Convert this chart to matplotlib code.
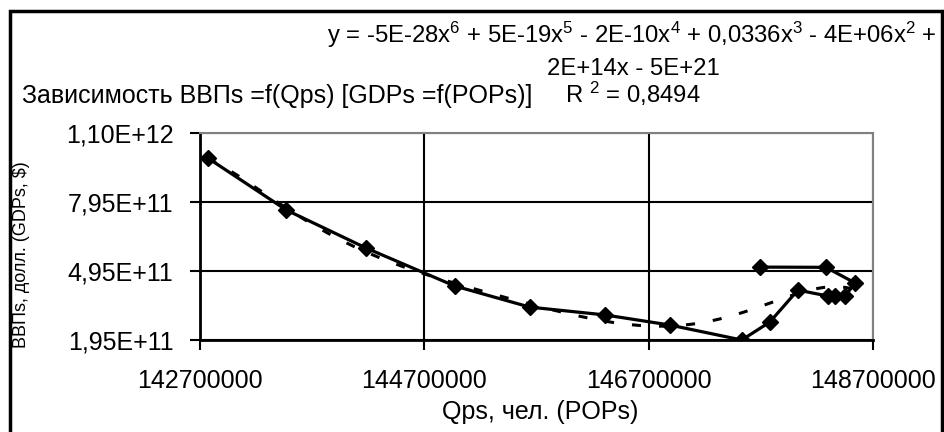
import numpy as np
import matplotlib
matplotlib.use("Agg")
from matplotlib import pyplot as plt
from matplotlib.patches import Rectangle

plt.rcParams['font.family'] = ['Liberation Sans', 'DejaVu Sans']
plt.rcParams['mathtext.fontset'] = 'custom'
plt.rcParams['mathtext.rm'] = 'Liberation Sans'
plt.rcParams['mathtext.it'] = 'Liberation Sans'
plt.rcParams['lines.scale_dashes'] = False

# population (people) and GDP ($), in the order the line runs
pops = [147.69e6, 148.28e6, 148.54e6, 148.45e6, 148.36e6, 148.30e6, 148.03e6, 147.78e6,
        147.53e6, 146.89e6, 146.31e6, 145.64e6, 144.97e6, 144.18e6, 143.47e6, 142.77e6]
gdps = [5.12e11, 5.11e11, 4.43e11, 3.86e11, 3.86e11, 3.86e11, 4.12e11, 2.73e11,
        1.95e11, 2.60e11, 3.04e11, 3.38e11, 4.30e11, 5.95e11, 7.60e11, 9.86e11]

xticks = [142700000, 144700000, 146700000, 148700000]
yticks = [1.95e11, 4.95e11, 7.95e11, 1.095e12]
ytick_labels = ["1,95E+11", "4,95E+11", "7,95E+11", "1,10E+12"]

title = "Зависимость ВВПs =f(Qps) [GDPs =f(POPs)]"
eq1 = r"y = -5E-28x$^{6}$ + 5E-19x$^{5}$ - 2E-10x$^{4}$ + 0,0336x$^{3}$ - 4E+06x$^{2}$ +"
eq2 = "2E+14x - 5E+21"
r2 = r"R $^{2}$ = 0,8494"

W, H = 944, 432
fig = plt.figure(figsize=(W / 100, H / 100), dpi=100)
ax = fig.add_axes([200 / W, 1 - 340 / H, 673 / W, 207 / H])

x = np.array(pops)
y = np.array(gdps)

# 6th order polynomial trend, as in the original
trend = np.polynomial.Polynomial.fit(x, y, 6)
xs = np.linspace(x.min(), x.max(), 300)
ax.plot(xs, trend(xs), color='black', lw=2.2, dashes=(6.5, 13), zorder=3)

ax.plot(x, y, color='black', lw=2.3, marker='D', markersize=8.5, zorder=4)

ax.set_xlim(142700000, 148700000)
ax.set_ylim(1.95e11, 1.095e12)
ax.set_xticks(xticks)
ax.set_xticklabels([str(t) for t in xticks])
ax.set_yticks(yticks)
ax.set_yticklabels(ytick_labels)
ax.tick_params(axis='both', direction='out', length=7, width=1.5,
               labelsize=18, colors='black')
ax.tick_params(axis='x', pad=14)
ax.tick_params(axis='y', pad=12)

ax.set_axisbelow(True)
ax.grid(True, color='black', lw=1.5)
for s in ['top', 'right']:
    ax.spines[s].set_color('#808080')
    ax.spines[s].set_linewidth(1.5)
for s in ['left', 'bottom']:
    ax.spines[s].set_color('black')
    ax.spines[s].set_linewidth(2)

fig.text(22 / W, 1 - 255 / H, "ВВПs, долл. (GDPs, $)", rotation=90,
         ha='center', va='center', fontsize=13)
fig.text(540 / W, 1 - 412 / H, "Qps, чел. (POPs)", ha='center', va='center', fontsize=18)

fig.text(22 / W, 1 - 96 / H, title, ha='left', va='center', fontsize=18)
fig.text(632 / W, 1 - 35 / H, eq1, ha='center', va='center', fontsize=17.2)
fig.text(633 / W, 1 - 69 / H, eq2, ha='center', va='center', fontsize=17.2)
fig.text(565 / W, 1 - 94 / H, r2, ha='left', va='center', fontsize=17.2)

fig.patches.append(Rectangle((10 / W, -0.05), 932 / W, 1.05 - 11 / H,
                             transform=fig.transFigure, fill=False,
                             edgecolor='black', lw=2.5))

fig.savefig("out.png", dpi=100)
